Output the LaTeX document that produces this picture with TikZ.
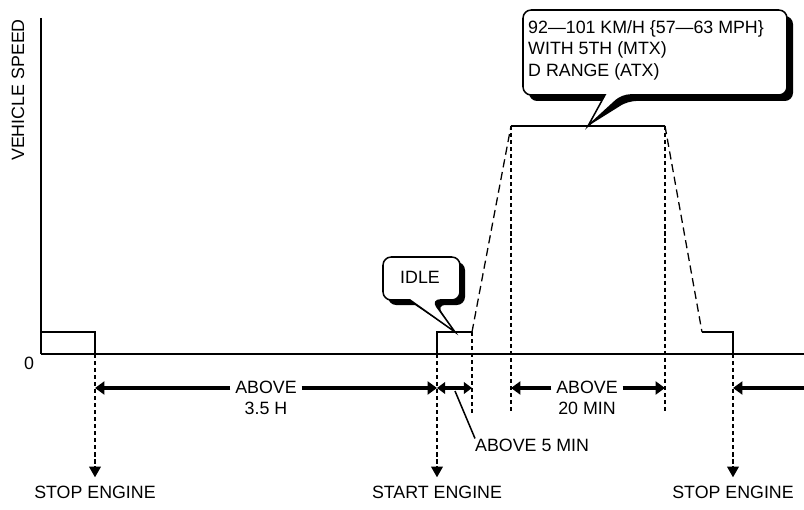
\documentclass[tikz,border=0pt]{standalone}
\usepackage{fontspec}
\setmainfont{Liberation Sans}
\usetikzlibrary{positioning, arrows.meta}

\begin{document}
\begin{tikzpicture}[x=0.03cm, y=-0.03cm,
	txt/.style={font=\fontsize{15.2}{18.3}\selectfont, inner sep=0pt, align=center},
	speed/.style={line width=1.3pt},
	slope/.style={line width=1.1pt, dash pattern=on 7pt off 4pt},
	guide/.style={line width=1pt, dash pattern=on 3.5pt off 2.5pt},
	engine/.style={guide, -{Triangle[length=9pt, width=10pt]}, shorten >=7pt},
	span/.style={line width=3.5pt, -{Triangle[length=8pt, width=11pt]}},
	twoway/.style={line width=3pt, {Triangle[length=7pt, width=10pt]}-{Triangle[length=7pt, width=10pt]}},
	shade/.style={fill=black, rounded corners=7pt},
	bubble/.style={draw, line width=1.3pt, fill=white, rounded corners=7pt}]
	\useasboundingbox (0,0) rectangle (804,510);
	
	% axes
	\coordinate (origin) at (41,354);
	\coordinate (ytop) at (41,18);
	\coordinate (xend) at (804,354);
	\draw[line width=1pt] (origin) -- (xend);
	\draw[line width=2.5pt] (ytop) -- (origin);
	\node[txt, rotate=90] (vspeed) at (18,90) {VEHICLE SPEED};
	\node[txt] (zero) at (29,363) {0};
	
	% speed profile
	\coordinate (stop1) at (95,354);
	\coordinate (start) at (437,354);
	\coordinate (idle) at (472,332);
	\coordinate (upL) at (511,126);
	\coordinate (upR) at (665,126);
	\coordinate (downR) at (702,332);
	\coordinate (stop2) at (733,354);
	\draw[speed] (41,332) -- (95,332) -- (stop1);
	\draw[line width=2.3pt] (origin) -- (stop1);
	\draw[line width=2.3pt] (start) -- (stop2);
	\draw[speed] (start) -- (437,332) -- (idle);
	\draw[slope] (idle) -- (upL);
	\draw[speed] (upL) -- (upR);
	\draw[slope] (upR) -- (downR);
	\draw[speed] (downR) -- (733,332) -- (stop2);
	
	% engine labels
	\node[txt] (stopA) at (95,492) {STOP ENGINE};
	\node[txt] (startB) at (437,492) {START ENGINE};
	\node[txt] (stopC) at (733,492) {STOP ENGINE};
	\draw[engine] (stop1) -- (stopA.north);
	\draw[engine] (start) -- (startB.north);
	\draw[engine] (stop2) -- (stopC.north);
	
	% guide lines
	\coordinate (g1) at (472,413);
	\coordinate (g2) at (511,413);
	\coordinate (g3) at (665,413);
	\draw[guide] (idle) -- (g1);
	\draw[guide] (upL) -- (g2);
	\draw[guide] (upR) -- (g3);
	
	% time spans
	\coordinate (r1) at (95,388);
	\coordinate (r2) at (437,388);
	\coordinate (r3) at (472,388);
	\coordinate (r4) at (511,388);
	\coordinate (r5) at (665,388);
	\coordinate (r6) at (733,388);
	\coordinate (r7) at (804,388);
	\node[txt] (off) at (266,398) {ABOVE\\3.5 H};
	\node[txt] (ride) at (587,398) {ABOVE\\20 MIN};
	\draw[span, shorten <=4pt] (off.west |- r1) -- (r1);
	\draw[span, shorten <=4pt] (off.east |- r1) -- (r2);
	\draw[span, shorten <=4pt] (ride.west |- r1) -- (r4);
	\draw[span, shorten <=4pt] (ride.east |- r1) -- (r5);
	\draw[span] (r7) -- (r6);
	\draw[twoway] (r2) -- (r3);
	\node[txt, anchor=west] (five) at (475,445) {ABOVE 5 MIN};
	\coordinate (lead) at (455,391);
	\draw[speed] (lead) -- (five.north west);
	
	% idle callout
	\coordinate (idletip) at (455,332);
	\fill[shade, shift={(5,5)}] (383,278) -- (383,257) -- (460,257) -- (460,300) -- (432,300) [sharp corners] -- (idletip) -- (410,300) [rounded corners=7pt] -- (383,300) -- cycle;
	\draw[bubble] (383,278) -- (383,257) -- (460,257) -- (460,300) -- (432,300) [sharp corners] -- (idletip) -- (410,300) [rounded corners=7pt] -- (383,300) -- cycle;
	\node[txt] (idletext) at (420,277) {IDLE};
	
	% cruise callout
	\coordinate (cruisetip) at (588,126);
	\fill[shade, shift={(6,6)}] (523,50) -- (523,10) -- (787,10) -- (787,95) -- (622,95) [sharp corners] -- (cruisetip) -- (605,95) [rounded corners=7pt] -- (523,95) -- cycle;
	\draw[bubble] (523,50) -- (523,10) -- (787,10) -- (787,95) -- (622,95) [sharp corners] -- (cruisetip) -- (605,95) [rounded corners=7pt] -- (523,95) -- cycle;
	\node[txt, align=left, anchor=west] (cruise) at (528,50) {92—101 KM/H \{57—63 MPH\}\\WITH 5TH (MTX)\\D RANGE (ATX)};
\end{tikzpicture}
\end{document}
